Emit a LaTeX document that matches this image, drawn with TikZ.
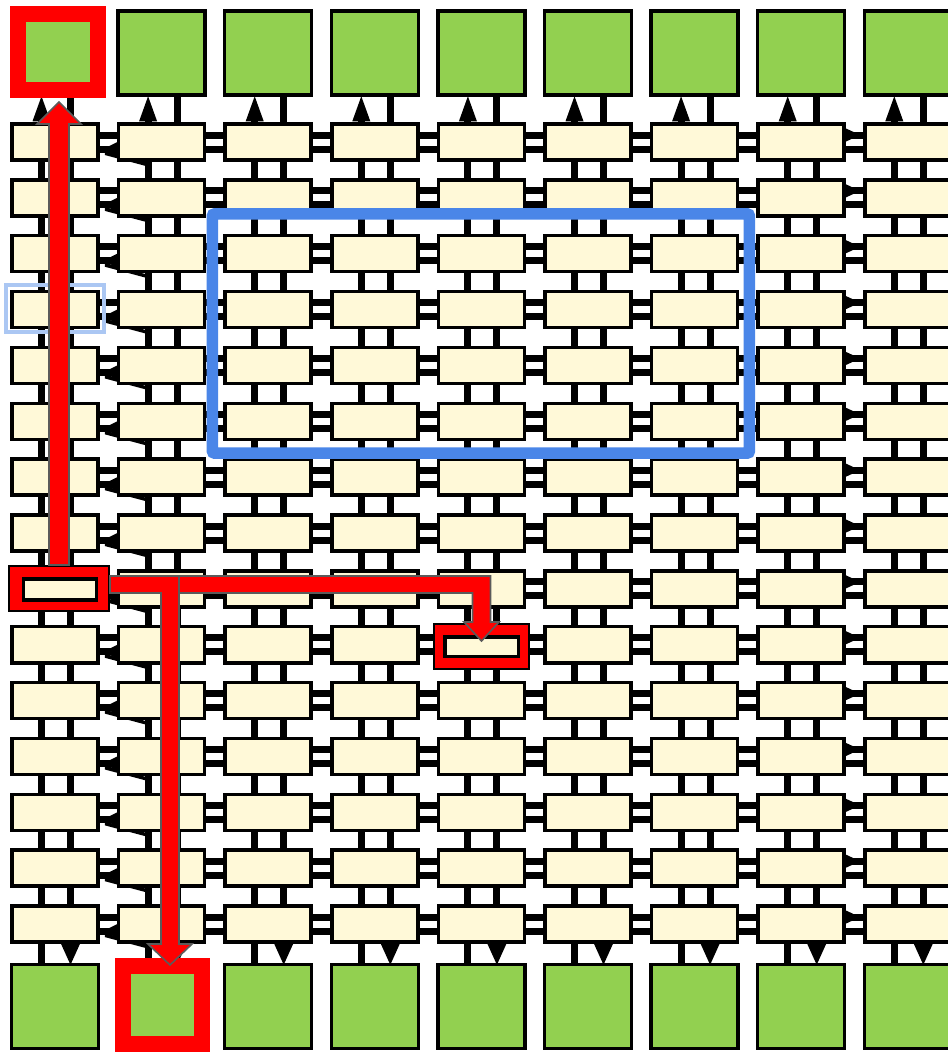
\documentclass[tikz,border=0pt]{standalone}
\usepackage{tikz}
\usetikzlibrary{arrows.meta,calc,backgrounds}
\definecolor{lutfill}{HTML}{FFF9D8}
\definecolor{iogreen}{HTML}{92D050}
\definecolor{pathred}{HTML}{FF0000}
\definecolor{pathrim}{HTML}{5B5B5B}
\definecolor{regionblue}{HTML}{4A86E8}
\definecolor{paleblue}{HTML}{ABC7F3}

\begin{document}
\begin{tikzpicture}[x=1pt,y=-1pt,
    lut/.style={rectangle,draw=black,line width=3.5pt,fill=lutfill,
                minimum width=86pt,minimum height=36pt,inner sep=0pt},
    pad/.style={rectangle,draw=black,line width=3.5pt,fill=iogreen,
                minimum width=87pt,minimum height=84pt,inner sep=0pt},
    padsel/.style={rectangle,draw=pathred,line width=16pt,fill=iogreen,inner sep=0pt},
    lutsel/.style={rectangle,draw=black,line width=3.5pt,fill=lutfill,
                minimum width=73pt,minimum height=21pt,inner sep=0pt},
    selframe/.style={rectangle,draw=black,line width=2pt,fill=pathred,
                minimum width=100pt,minimum height=45pt,inner sep=0pt},
    wire/.style={line width=7pt,black},
    route/.style={draw=pathrim,line width=1.6pt,fill=pathred},
    region/.style={draw=regionblue,line width=11.5pt,rounded corners=2pt},
    probe/.style={draw=paleblue,line width=4pt}]

  \useasboundingbox (0,0) rectangle (948,1053);

  % logic blocks
  \foreach \r in {1,...,15} {
    \foreach \c in {1,...,9}
      \node[lut] (c-\r-\c) at ({55+(\c-1)*106.6},{142+(\r-1)*55.86}) {};
  }

  % I/O pads
  \node[padsel,minimum width=80pt,minimum height=76pt] (top-1) at (58,52) {};
  \foreach \c in {2,...,9}
    \node[pad] (top-\c) at ({55+(\c-1)*106.6},53) {};
  \foreach \c in {1,3,4,5,6,7,8,9}
    \node[pad] (bot-\c) at ({55+(\c-1)*106.6},1006.5) {};
  \node[padsel,minimum width=79pt,minimum height=78pt] (bot-2) at (162.5,1005) {};

  \begin{scope}[on background layer]
    \foreach \r in {1,...,15} {
      \foreach \c [evaluate=\c as \n using int(\c+1)] in {1,...,8} {
        \draw[wire] ($(c-\r-\c)+(0,-7)$) -- ($(c-\r-\n)+(0,-7)$);
        \draw[wire] ($(c-\r-\c)+(0,7)$) -- ($(c-\r-\n)+(0,7)$);
      }
    }
    \foreach \r [evaluate=\r as \s using int(\r+1)] in {1,...,14} {
      \foreach \c in {1,...,9} {
        \draw[wire] ($(c-\r-\c)+(-13.5,0)$) -- ($(c-\s-\c)+(-13.5,0)$);
        \draw[wire] ($(c-\r-\c)+(15.5,0)$) -- ($(c-\s-\c)+(15.5,0)$);
      }
    }
    \foreach \c in {1,...,9} {
      \draw[wire,-{Triangle[length=25pt,width=18pt,line width=0pt]}]
        ($(c-1-\c)+(-13.5,0)$) -- ($(c-1-\c.north)+(-13.5,-26)$);
      \draw[wire] ($(c-1-\c)+(15.5,0)$) -- ($(c-1-\c.north)+(15.5,-30)$);
      \draw[wire] ($(c-15-\c)+(-13.5,0)$) -- ($(c-15-\c.south)+(-13.5,25)$);
      \draw[wire,-{Triangle[length=21pt,width=19pt,line width=0pt]}]
        ($(c-15-\c)+(15.5,0)$) -- ($(c-15-\c.south)+(15.5,21)$);
    }
    \foreach \r in {1,...,15} {
      \draw[wire,-{Triangle[length=15pt,width=15pt,line width=0pt]}]
        ($(c-\r-2)+(0,7)$) -- ($(c-\r-1.east)+(3.5,7)$);
      \draw[wire,-{Triangle[length=14pt,width=13pt,line width=0pt]}]
        ($(c-\r-8)+(0,-7)$) -- ($(c-\r-9.west)+(-3,-7)$);
      \fill ($(c-\r-1.east)+(5,9)$) -- ($(c-\r-1.east)+(48,21)$)
        -- ($(c-\r-1.east)+(48,24.5)$) -- ($(c-\r-1.east)+(5,13)$) -- cycle;
    }
  \end{scope}

  \draw[probe] ($(c-4-1.north west)+(-4,-5)$) rectangle ($(c-4-1.south east)+(4,3)$);
  \draw[region] ($(c-3-3.north west)+(-11,-20)$) rectangle ($(c-6-7.south east)+(10,12)$);

  % selected route
  \node[selframe] (src-frame) at (59,588.5) {};
  \node[lutsel] (src) at (60,589.5) {};
  \node[selframe,minimum width=95pt] (dst-frame) at (481.5,646.5) {};
  \node[lutsel,minimum width=73.5pt,minimum height=19.5pt] (dst) at (481.5,646.5) {};

  \coordinate (bend-from) at ($(src-frame.east)+(0,-4)$);
  \coordinate (up-to) at ($(top-1.south)+(1,4)$);
  \coordinate (down-to) at ($(bot-2.north)+(7.5,7)$);
  \coordinate (dst-to) at ($(dst-frame.north)+(0,18)$);
  \coordinate (bend-b) at (down-to |- bend-from);
  \coordinate (bend-a) at (dst-to |- bend-from);

  \draw[route] ($(src-frame.north)+(-10,0)$) -- ($(up-to)+(-10,22)$)
    -- ($(up-to)+(-22,22)$) -- (up-to) -- ($(up-to)+(22,22)$)
    -- ($(up-to)+(10,22)$) -- ($(src-frame.north)+(10,0)$) -- cycle;
  \draw[route] ($(bend-from)+(0,-8.5)$) -- ($(bend-a)+(9,-8.5)$)
    -- ($(dst-to)+(9,-19)$) -- ($(dst-to)+(17.5,-19)$) -- (dst-to)
    -- ($(dst-to)+(-17.5,-19)$) -- ($(dst-to)+(-9,-19)$)
    -- ($(bend-a)+(-9,8.5)$) -- ($(bend-from)+(0,8.5)$) -- cycle;
  \draw[route] ($(bend-from)+(0,-8.5)$) -- ($(bend-b)+(9,-8.5)$)
    -- ($(down-to)+(9,-21)$) -- ($(down-to)+(22,-21)$) -- (down-to)
    -- ($(down-to)+(-22,-21)$) -- ($(down-to)+(-9,-21)$)
    -- ($(bend-b)+(-9,8.5)$) -- ($(bend-from)+(0,8.5)$) -- cycle;
\end{tikzpicture}
\end{document}
